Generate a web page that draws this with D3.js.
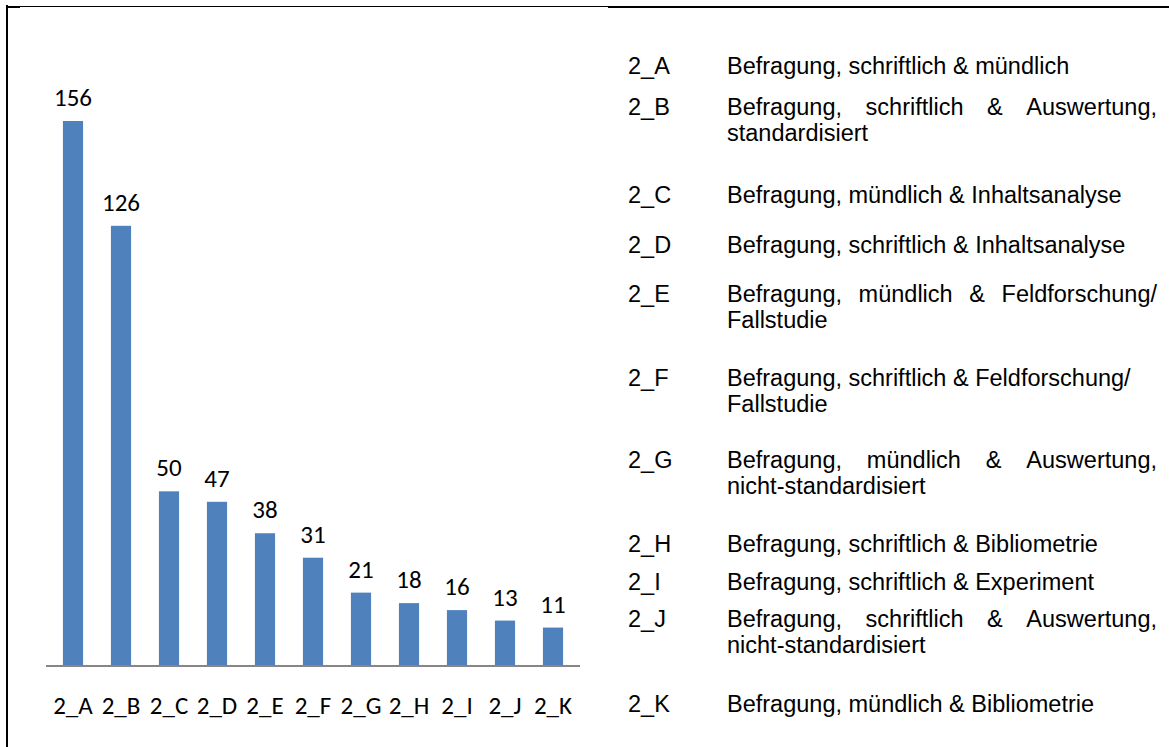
<!DOCTYPE html>
<html>
<head>
<meta charset="utf-8">
<script src="https://cdn.jsdelivr.net/npm/d3@7"></script>
<style>
html,body{margin:0;padding:0;background:#fff;}
svg{display:block;}
</style>
</head>
<body>
<svg id="chart" width="1169" height="747"></svg>
<script>
const categories = ["2_A","2_B","2_C","2_D","2_E","2_F","2_G","2_H","2_I","2_J","2_K"];
const values = [156,126,50,47,38,31,21,18,16,13,11];
const legendCodes = ["2_A","2_B","2_C","2_D","2_E","2_F","2_G","2_H","2_I","2_J","2_K"];
const legendLines = [
  ["Befragung, schriftlich & mündlich"],
  ["Befragung, schriftlich & Auswertung,", "standardisiert"],
  ["Befragung, mündlich & Inhaltsanalyse"],
  ["Befragung, schriftlich & Inhaltsanalyse"],
  ["Befragung, mündlich & Feldforschung/", "Fallstudie"],
  ["Befragung, schriftlich & Feldforschung/", "Fallstudie"],
  ["Befragung, mündlich & Auswertung,", "nicht-standardisiert"],
  ["Befragung, schriftlich & Bibliometrie"],
  ["Befragung, schriftlich & Experiment"],
  ["Befragung, schriftlich & Auswertung,", "nicht-standardisiert"],
  ["Befragung, mündlich & Bibliometrie"]
];
const legendJustify = [false,true,false,false,true,false,true,false,false,true,false];
const legendRowY = [74,115,203,253,302,386,468,552,590,627,712];

const svg = d3.select("#chart");

// frame
svg.append("line").attr("x1",7).attr("x2",7).attr("y1",5).attr("y2",747).attr("stroke","#000").attr("stroke-width",2);
svg.append("line").attr("x1",6).attr("x2",608).attr("y1",6.5).attr("y2",6.5).attr("stroke","#000").attr("stroke-width",1);
svg.append("line").attr("x1",6).attr("x2",20).attr("y1",7).attr("y2",7).attr("stroke","#000").attr("stroke-width",2);
svg.append("line").attr("x1",608).attr("x2",1169).attr("y1",7).attr("y2",7).attr("stroke","#000").attr("stroke-width",2);

// chart
const x = d3.scaleBand().domain(categories).range([49,577]).paddingInner(0.58).paddingOuter(0.29);
const y = d3.scaleLinear().domain([0,156]).range([666,121]);

svg.append("g").selectAll("rect").data(values).join("rect")
  .attr("x",(d,i)=>x(categories[i]))
  .attr("width",x.bandwidth())
  .attr("y",d=>y(d))
  .attr("height",d=>y(0)-y(d))
  .attr("fill","#4F81BD");

svg.append("g").selectAll("text").data(values).join("text")
  .attr("x",(d,i)=>x(categories[i])+x.bandwidth()/2)
  .attr("y",d=>y(d)-15)
  .attr("text-anchor","middle")
  .attr("font-family","Carlito, Calibri, Lato, sans-serif")
  .attr("font-size",25)
  .attr("fill","#000")
  .text(d=>d);

const xAxis = d3.axisBottom(x).tickSize(0).tickPadding(0);
const ax = svg.append("g").attr("transform",`translate(0,${y(0)})`).call(xAxis);
ax.select(".domain").attr("d","M46,0H580").attr("stroke","#868686").attr("stroke-width",2);
ax.selectAll(".tick text").attr("y",48).attr("dy",0)
  .attr("font-family","Carlito, Calibri, Lato, sans-serif").attr("font-size",25).attr("fill","#000");

// legend
const lg = svg.append("g").attr("font-family","'Liberation Sans', Arial, sans-serif").attr("font-size",23.5).attr("fill","#000");
const codeX = 628, descX = 727, rightX = 1157, lineH = 26;
legendCodes.forEach((c,i)=>{
  const yy = legendRowY[i];
  lg.append("text").attr("x",codeX).attr("y",yy).text(c);
  legendLines[i].forEach((ln,j)=>{
    const ly = yy + j*lineH;
    if (j===0 && legendJustify[i]) {
      const words = ln.split(" ");
      const tmp = words.map(w=>lg.append("text").attr("y",ly).text(w));
      const widths = tmp.map(t=>t.node().getComputedTextLength());
      const total = d3.sum(widths);
      const gap = (rightX-descX-total)/(words.length-1);
      let cx = descX;
      tmp.forEach((t,k)=>{ t.attr("x",cx); cx += widths[k]+gap; });
    } else {
      lg.append("text").attr("x",descX).attr("y",ly).text(ln);
    }
  });
});
</script>
</body>
</html>
